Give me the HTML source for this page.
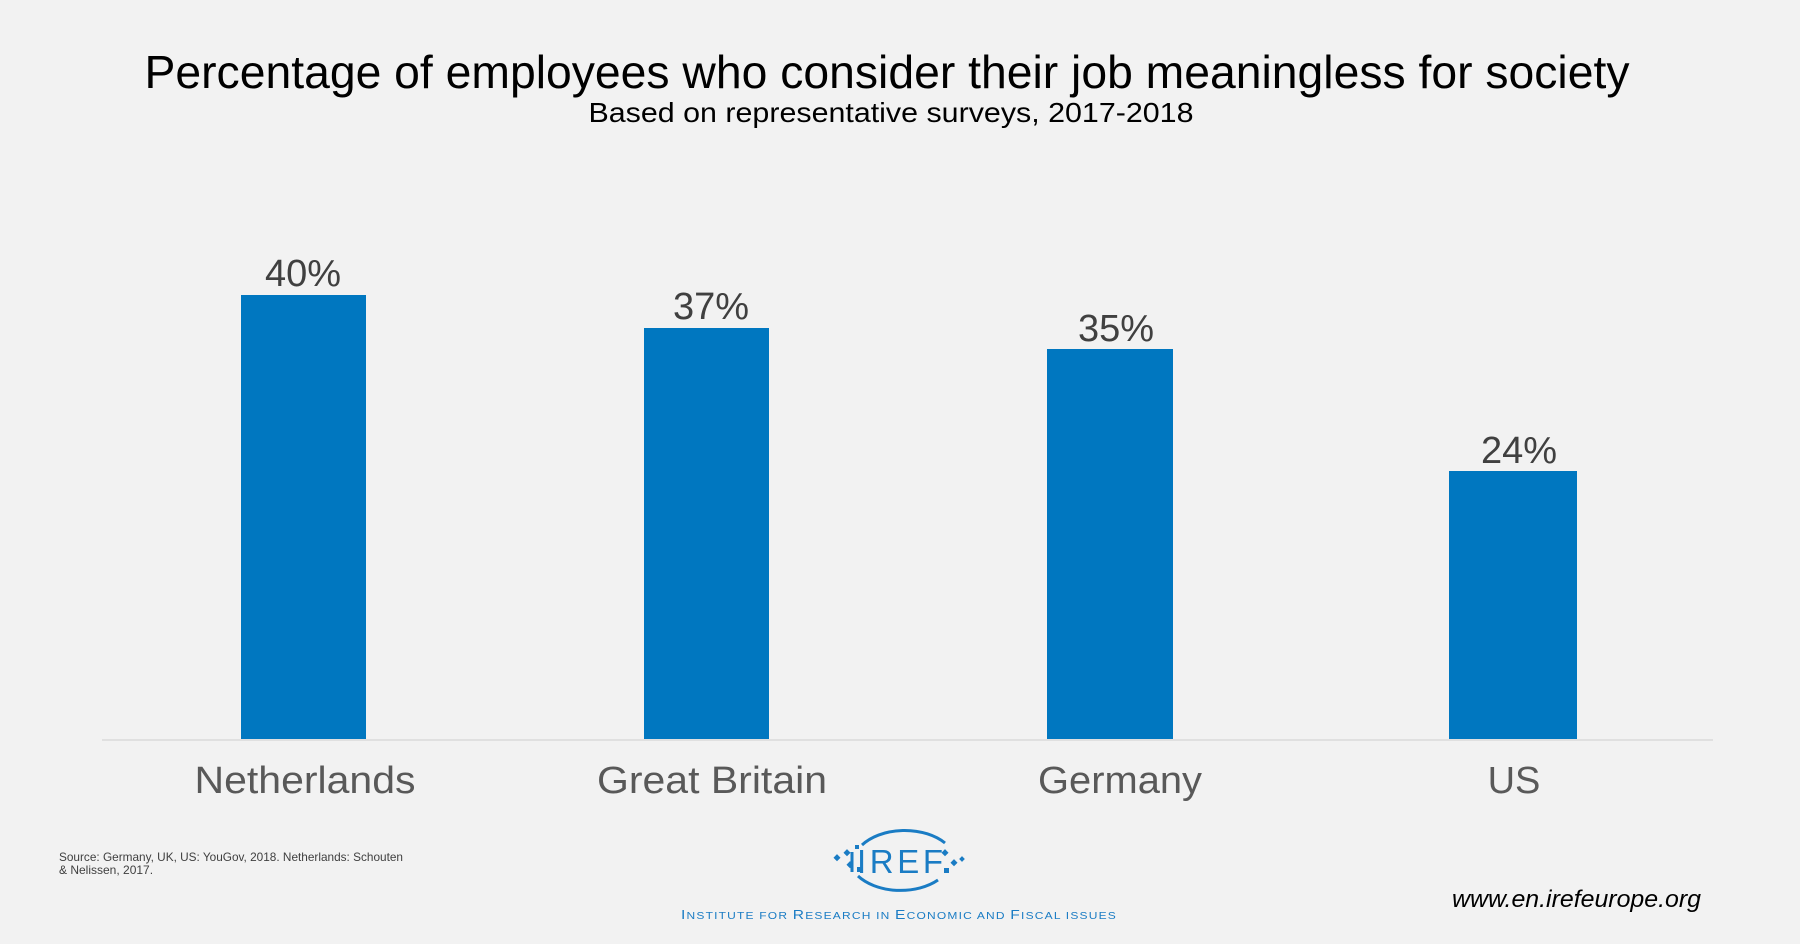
<!DOCTYPE html>
<html><head><meta charset="utf-8"><style>
html,body{margin:0;padding:0;background:#f2f2f2;}
svg{display:block;}
</style></head><body>
<svg width="1800" height="944" viewBox="0 0 1800 944" xmlns="http://www.w3.org/2000/svg" font-family="'Liberation Sans', sans-serif">
<rect width="1800" height="944" fill="#f2f2f2"/>
<text x="887" y="88" font-size="46" text-anchor="middle" fill="#000" textLength="1485" lengthAdjust="spacingAndGlyphs">Percentage of employees who consider their job meaningless for society</text>
<text x="891" y="122" font-size="28" text-anchor="middle" fill="#000" textLength="605" lengthAdjust="spacingAndGlyphs">Based on representative surveys, 2017-2018</text>
<line x1="102" y1="740" x2="1713" y2="740" stroke="#d9d9d9" stroke-width="1.5"/>
<rect x="241" y="295" width="125" height="444" fill="#0077c0"/>
<rect x="644" y="328" width="125" height="411" fill="#0077c0"/>
<rect x="1047" y="349" width="126" height="390" fill="#0077c0"/>
<rect x="1449" y="471" width="128" height="268" fill="#0077c0"/>
<g font-size="38" fill="#404040" text-anchor="middle">
<text x="303" y="286">40%</text>
<text x="711" y="319">37%</text>
<text x="1116" y="341">35%</text>
<text x="1519" y="463">24%</text>
</g>
<g font-size="38" fill="#595959" text-anchor="middle">
<text x="305" y="793" textLength="221" lengthAdjust="spacingAndGlyphs">Netherlands</text>
<text x="712" y="793" textLength="230" lengthAdjust="spacingAndGlyphs">Great Britain</text>
<text x="1120" y="793" textLength="164" lengthAdjust="spacingAndGlyphs">Germany</text>
<text x="1514" y="793">US</text>
</g>
<g font-size="12" fill="#404040">
<text x="59" y="861" textLength="344" lengthAdjust="spacingAndGlyphs">Source: Germany, UK, US: YouGov, 2018. Netherlands: Schouten</text>
<text x="59" y="874">&amp; Nelissen, 2017.</text>
</g>
<text x="1701" y="907" font-size="24" font-style="italic" fill="#000" text-anchor="end" textLength="249" lengthAdjust="spacingAndGlyphs">www.en.irefeurope.org</text>
<!-- logo -->
<g fill="none" stroke="#1a7cc4" stroke-width="3">
<path d="M862 845 A52 34 0 0 1 945 843"/>
<path d="M938 880 A52 34 0 0 1 858 876"/>
<path d="M852 852 L852 872"/>
</g>
<g fill="#1a7cc4">
<rect x="835" y="855" width="5" height="5" transform="rotate(45 837 857)"/>
<rect x="845" y="850" width="5" height="5" transform="rotate(45 847 852)"/>
<rect x="848" y="862" width="5" height="5" transform="rotate(45 850 864)"/>
<rect x="855" y="845" width="4" height="4"/>
<rect x="857" y="867" width="5" height="5"/>
<rect x="943" y="850" width="5" height="5" transform="rotate(45 945 852)"/>
<rect x="952" y="860" width="5" height="5" transform="rotate(45 954 862)"/>
<rect x="960" y="857" width="4" height="4" transform="rotate(45 962 859)"/>
<rect x="944" y="868" width="5" height="5"/>
</g>
<text x="900" y="873" font-size="33" fill="#1a7cc4" text-anchor="middle" textLength="86" lengthAdjust="spacing">IREF</text>
<text x="681" y="919" font-size="13" fill="#1a7cc4" textLength="436" lengthAdjust="spacingAndGlyphs" letter-spacing="1">I<tspan font-size="10">NSTITUTE FOR </tspan>R<tspan font-size="10">ESEARCH IN </tspan>E<tspan font-size="10">CONOMIC AND </tspan>F<tspan font-size="10">ISCAL ISSUES</tspan></text>
</svg>
</body></html>
